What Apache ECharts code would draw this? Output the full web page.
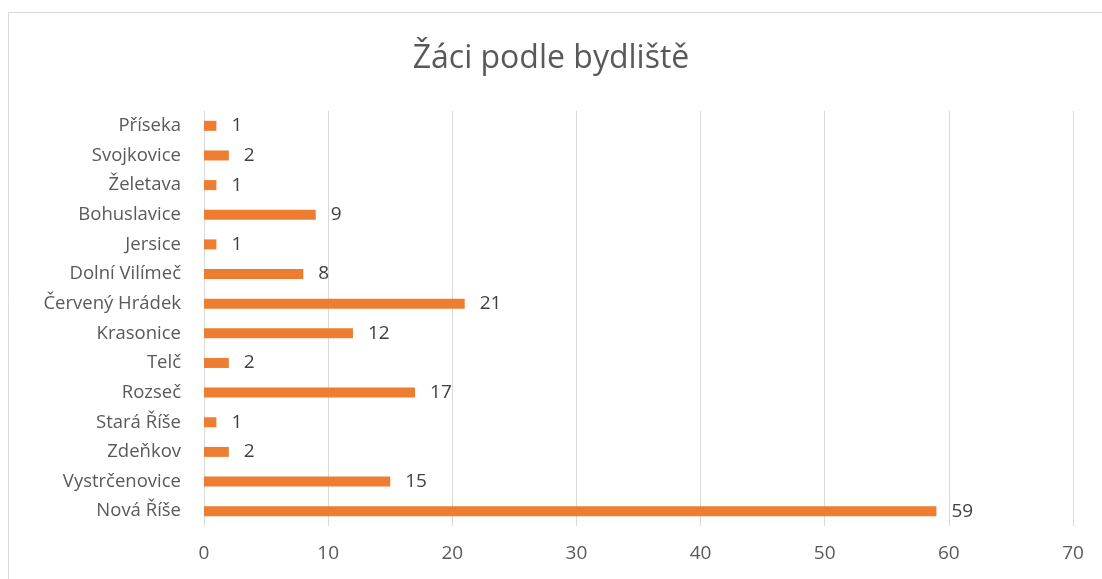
<!DOCTYPE html>
<html><head><meta charset="utf-8">
<script src="https://cdn.jsdelivr.net/npm/echarts@6/dist/echarts.min.js"></script>
<style>html,body{margin:0;padding:0;background:#fff}#c{width:1102px;height:579px}</style>
</head><body><div id="c"></div>
<script>
const titleText = 'Žáci podle bydliště';
const categories = ['Příseka','Svojkovice','Želetava','Bohuslavice','Jersice','Dolní Vilímeč','Červený Hrádek','Krasonice','Telč','Rozseč','Stará Říše','Zdeňkov','Vystrčenovice','Nová Říše'];
const values = [1,2,1,9,1,8,21,12,2,17,1,2,15,59];
const xTicks = [0,10,20,30,40,50,60,70];

const FONT = '"Open Sans", sans-serif';
const chart = echarts.init(document.getElementById('c'));
chart.setOption({
  animation: false,
  backgroundColor: '#fff',
  graphic: [{type:'rect', shape:{x:8.5,y:12.5,width:1100,height:600}, style:{fill:'none', stroke:'#d9d9d9', lineWidth:1}}],
  title: {text: titleText, left: 'center', top: 38, textStyle:{fontFamily:FONT, fontSize:32, fontWeight:'normal', color:'#595959'}},
  grid: {left: 204, right: 29, top: 111, bottom: 53},
  xAxis: {type:'value', min: xTicks[0], max: xTicks[xTicks.length-1], interval: 10,
    axisLine:{show:false}, axisTick:{show:false},
    splitLine:{lineStyle:{color:'#d9d9d9', width:1}},
    axisLabel:{fontFamily:FONT, fontSize:19, color:'#595959', margin:18}},
  yAxis: {type:'category', data: categories, inverse: true,
    axisLine:{show:true, lineStyle:{color:'#d9d9d9'}}, axisTick:{show:false},
    axisLabel:{fontFamily:FONT, fontSize:18.5, color:'#595959', margin:23}},
  series: [{type:'bar', data: values, barWidth: 10, itemStyle:{color:'#ED7D31'},
    label:{show:true, position:'right', distance:15, fontFamily:FONT, fontSize:19, color:'#404040'}}]
});
</script></body></html>
